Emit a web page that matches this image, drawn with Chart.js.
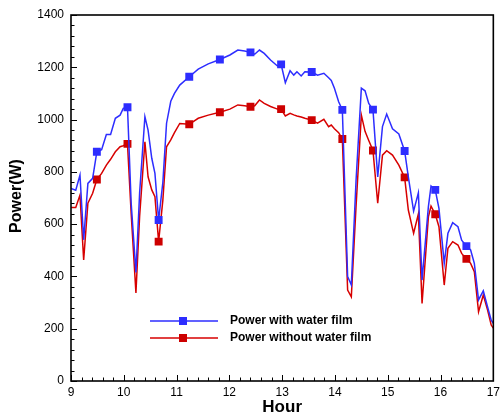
<!DOCTYPE html>
<html>
<head>
<meta charset="utf-8">
<script src="https://cdn.jsdelivr.net/npm/chart.js@4/dist/chart.umd.min.js"></script>
<style>
html,body{margin:0;padding:0;background:#fff;}
canvas{display:block;}
</style>
</head>
<body>
<canvas id="c" width="504" height="414"></canvas>
<script>
const hours = [9.00,9.09,9.17,9.24,9.32,9.41,9.49,9.58,9.67,9.75,9.84,9.93,9.99,10.07,10.14,10.23,10.30,10.40,10.46,10.53,10.59,10.66,10.74,10.81,10.89,10.96,11.06,11.24,11.41,11.60,11.82,12.01,12.16,12.29,12.40,12.48,12.57,12.66,12.78,12.91,12.98,13.06,13.15,13.22,13.28,13.36,13.43,13.56,13.67,13.79,13.88,13.93,13.99,14.07,14.14,14.24,14.31,14.40,14.50,14.57,14.64,14.72,14.81,14.90,14.98,15.09,15.21,15.32,15.39,15.49,15.58,15.65,15.77,15.82,15.90,15.97,16.07,16.14,16.23,16.33,16.40,16.49,16.57,16.64,16.72,16.81,16.89,16.96,17.00];
const powerWithFilm = [737,730,788,540,756,775,877,885,943,943,1005,1017,1043,1047,680,415,720,1011,960,852,794,616,760,986,1070,1100,1132,1164,1193,1213,1230,1247,1266,1262,1257,1250,1266,1253,1228,1205,1211,1141,1187,1170,1183,1167,1183,1182,1170,1177,1160,1150,1120,1068,1037,400,367,769,1120,1110,1062,1038,781,973,1021,965,945,880,781,650,720,386,667,746,731,660,450,565,606,590,539,516,501,450,310,345,284,233,221];
const powerWithoutFilm = [664,664,711,463,680,718,771,794,826,848,877,896,900,907,640,337,630,915,781,731,705,533,692,896,922,950,985,982,1005,1017,1028,1040,1056,1053,1049,1053,1075,1062,1050,1040,1040,1014,1024,1018,1014,1010,1005,998,986,1001,973,979,965,950,926,348,322,670,1017,955,920,882,680,864,881,864,826,779,654,565,639,297,628,669,638,590,367,508,533,520,488,467,450,418,265,329,272,214,202];
const markerHours = [9.49,10.07,10.66,11.24,11.82,12.40,12.98,13.56,14.14,14.72,15.32,15.90,16.49];
const seriesLabels = ['Power with water film','Power without water film'];
const xTitle = 'Hour';
const yTitle = 'Power(W)';

const BLUE = 'rgb(45,45,255)';
const RED = 'rgb(215,0,0)';
const FONT = '"Liberation Sans", Arial, sans-serif';

function pts(vals){ return hours.map((h,i)=>({x:h,y:vals[i]})); }
function isMarker(x){ return markerHours.some(m=>Math.abs(m-x)<1e-6); }
const radiusFn = ctx => (ctx.raw && isMarker(ctx.raw.x)) ? 5.6 : 0;

const framePlugin = {
  id:'frame',
  afterDraw(chart){
    const {ctx, chartArea:a, scales:{x,y}} = chart;
    ctx.save();
    ctx.strokeStyle = '#000';
    ctx.lineWidth = 1;
    ctx.beginPath();
    for(let v=0; v<=1400+1e-6; v+=40){
      const py = Math.round(y.getPixelForValue(v))+0.5;
      const len = (Math.round(v)%200===0)?6:3.5;
      ctx.moveTo(a.left, py); ctx.lineTo(a.left+len, py);
    }
    for(let h=9; h<=17+1e-6; h+=0.2){
      const px = Math.round(x.getPixelForValue(h))+0.5;
      const major = Math.abs(h-Math.round(h))<1e-6;
      const len = major?6:3.5;
      ctx.moveTo(px, a.bottom); ctx.lineTo(px, a.bottom-len);
    }
    ctx.stroke();
    ctx.lineWidth = 1.6;
    ctx.strokeRect(a.left, a.top, a.right-a.left, a.bottom-a.top);
    ctx.fillStyle = '#000';
    ctx.font = 'bold 16px ' + FONT;
    ctx.textAlign = 'center';
    ctx.textBaseline = 'middle';
    ctx.save();
    ctx.translate(17, 196);
    ctx.rotate(-Math.PI/2);
    ctx.fillText(yTitle, 0, 0);
    ctx.restore();
    ctx.font = 'bold 17px ' + FONT;
    ctx.fillText(xTitle, (a.left+a.right)/2, 407);
    chart.data.datasets.forEach((ds,i)=>{
      const ly = 321 + i*17;
      ctx.strokeStyle = ds.borderColor;
      ctx.lineWidth = 1.5;
      ctx.beginPath(); ctx.moveTo(150, ly); ctx.lineTo(218, ly); ctx.stroke();
      ctx.fillStyle = ds.backgroundColor;
      ctx.fillRect(179, ly-4, 8, 8);
      ctx.fillStyle = '#000';
      ctx.font = 'bold 12px ' + FONT;
      ctx.textAlign = 'left';
      ctx.fillText(ds.label, 230, ly);
    });
    ctx.restore();
  }
};

new Chart(document.getElementById('c'), {
  type:'line',
  data:{
    datasets:[
      {label:seriesLabels[0], data:pts(powerWithFilm), borderColor:BLUE, backgroundColor:BLUE, borderWidth:1.5, pointStyle:'rect', pointRadius:radiusFn, pointHoverRadius:radiusFn, pointBorderWidth:0, tension:0},
      {label:seriesLabels[1], data:pts(powerWithoutFilm), borderColor:RED, backgroundColor:'rgb(205,0,0)', borderWidth:1.5, pointStyle:'rect', pointRadius:radiusFn, pointHoverRadius:radiusFn, pointBorderWidth:0, tension:0}
    ]
  },
  options:{
    responsive:false,
    animation:false,
    layout:{padding:{left:0,right:5,top:15,bottom:0}},
    plugins:{legend:{display:false}, tooltip:{enabled:false}},
    scales:{
      x:{type:'linear', min:9, max:17,
        ticks:{stepSize:1, color:'#000', font:{family:FONT, size:12}, padding:4, maxRotation:0, autoSkip:false, callback:v=>String(v)},
        grid:{display:false, drawTicks:false}, border:{display:false},
        afterFit:s=>{s.height=33;}},
      y:{min:0, max:1400,
        ticks:{stepSize:200, color:'#000', font:{family:FONT, size:12}, padding:7, callback:v=>String(v)},
        grid:{display:false, drawTicks:false}, border:{display:false},
        afterFit:s=>{s.width=71;}}
    }
  },
  plugins:[framePlugin]
});
</script>
</body>
</html>
